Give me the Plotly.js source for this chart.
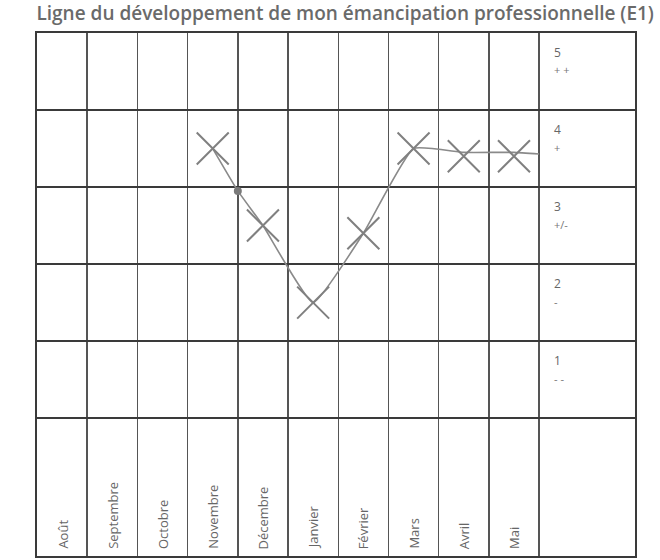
<!DOCTYPE html>
<html>
<head>
<meta charset="utf-8">
<script src="https://cdn.plot.ly/plotly-3.0.1.min.js"></script>
<style>html,body{margin:0;padding:0;background:#fff;}#chart{width:660px;height:560px;}</style>
</head>
<body>
<div id="chart"></div>
<script>
// Data
const months = ['Août','Septembre','Octobre','Novembre','Décembre','Janvier','Février','Mars','Avril','Mai'];
const scores = [null, null, null, 4.0, 3.0, 2.0, 2.9, 4.0, 3.9, 3.9];
// hand-drawn connecting line (month centres plus the dot on the Nov/Dec border and the tail to the border)
const lineX = [3.5, 4.0, 4.5, 5.5, 6.5, 7.5, 8.5, 9.5, 10.0];
const lineY = [4.0, 3.45, 3.0, 2.0, 2.9, 4.0, 3.95, 3.95, 3.93];
const dotX = [4.0];
const dotY = [3.45];
const levels = [5, 4, 3, 2, 1];
const levelSymbols = ['+ +', '+', '+/-', '-', '- -'];
const title = 'Ligne du développement de mon émancipation professionnelle (E1)';

const nMonths = months.length;
const labelBandBottom = -1.29;
const xMax = 11.91;

const xCenters = months.map((m, i) => i + 0.5);

const traces = [
  {
    x: lineX, y: lineY, mode: 'lines', type: 'scatter',
    line: {color: '#8a8a8a', width: 1.6, shape: 'spline', smoothing: 0.4},
    hoverinfo: 'skip', showlegend: false
  },
  {
    x: xCenters, y: scores, mode: 'markers', type: 'scatter',
    marker: {symbol: 'x-thin-open', size: 32, color: '#808080', line: {color: '#808080', width: 2}},
    showlegend: false
  },
  {
    x: dotX, y: dotY, mode: 'markers', type: 'scatter',
    marker: {symbol: 'circle', size: 8, color: '#7a7a7a'},
    showlegend: false
  }
];

const annotations = [];
months.forEach((m, i) => {
  annotations.push({
    x: xCenters[i], y: labelBandBottom, xref: 'x', yref: 'y',
    text: m, showarrow: false, textangle: -90,
    xanchor: 'center', yanchor: 'bottom', yshift: 5,
    font: {family: 'Open Sans', size: 13, color: '#666'}
  });
});
levels.forEach((v, i) => {
  annotations.push({
    x: nMonths, y: v + 0.25, xref: 'x', yref: 'y',
    text: String(v), showarrow: false, xanchor: 'left', yanchor: 'middle', xshift: 13,
    font: {family: 'Open Sans', size: 12, color: '#666'}
  });
  annotations.push({
    x: nMonths, y: v + 0.02, xref: 'x', yref: 'y',
    text: levelSymbols[i], showarrow: false, xanchor: 'left', yanchor: 'middle', xshift: 13,
    font: {family: 'Open Sans', size: 11, color: '#777'}
  });
});

const gridVals = [];
for (let i = 1; i <= nMonths; i++) gridVals.push(i);
const rowVals = levels.map(v => v - 0.5);

const layout = {
  width: 660, height: 560,
  margin: {l: 37, r: 25, t: 33, b: 4},
  paper_bgcolor: '#fff', plot_bgcolor: '#fff',
  title: {
    text: title, x: 0.523, xanchor: 'center', y: 0.977, yanchor: 'middle',
    font: {family: 'Open Sans', size: 19, color: '#6a6a6a', weight: 600}
  },
  xaxis: {
    range: [0, xMax], tickmode: 'array', tickvals: gridVals, showticklabels: false,
    ticks: '', showgrid: true, gridcolor: '#555', gridwidth: 1.5, zeroline: false,
    showline: true, mirror: true, linecolor: '#3a3a3a', linewidth: 2, fixedrange: true
  },
  yaxis: {
    range: [labelBandBottom, 5.5], tickmode: 'array', tickvals: rowVals, showticklabels: false,
    ticks: '', showgrid: true, gridcolor: '#3a3a3a', gridwidth: 1.8, zeroline: false,
    showline: true, mirror: true, linecolor: '#3a3a3a', linewidth: 2, fixedrange: true
  },
  annotations: annotations,
  showlegend: false
};

Plotly.newPlot('chart', traces, layout, {displayModeBar: false, staticPlot: true});
</script>
</body>
</html>
